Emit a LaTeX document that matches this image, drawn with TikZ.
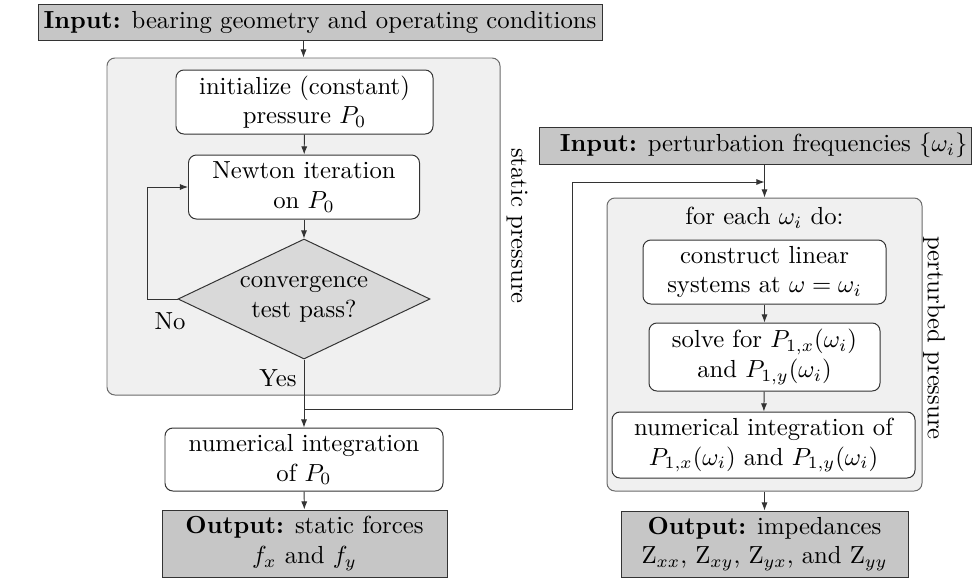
\documentclass[tikz,border=0pt]{standalone}
\usetikzlibrary{shapes.geometric,arrows.meta}
\definecolor{iogray}{HTML}{C6C6C6}
\definecolor{diagray}{HTML}{D9D9D9}
\definecolor{grpgray}{HTML}{F0F0F0}
\definecolor{edge}{HTML}{333333}
\definecolor{grpedge}{HTML}{6A6A6A}
\def\u{0.405pt}
\begin{document}
\begin{tikzpicture}[x=0.405pt,y=-0.405pt,
  iobox/.style={draw=edge, fill=iogray, align=center, inner sep=0pt},
  proc/.style={draw=edge, fill=white, rounded corners=3.2pt, align=center, inner sep=0pt},
  grp/.style={draw=grpedge, fill=grpgray, rounded corners=3.2pt, inner sep=0pt},
  dec/.style={diamond, draw=edge, fill=diagray, aspect=2.1, inner sep=0pt, align=center},
  arr/.style={-{Latex[length=3.3pt,width=2.5pt]}, draw=edge},
  lbl/.style={inner sep=0pt}]
\useasboundingbox[fill=white] (0,0) rectangle (979,579);
% groups
\node[grp, minimum width=393*\u, minimum height=337*\u] (sgrp) at (303.5,226.5) {};
\node[grp, minimum width=315*\u, minimum height=293*\u] (pgrp) at (764.5,344.5) {};
% inputs
\node[iobox, minimum width=564*\u, minimum height=36*\u] (in1) at (320,22) {\textbf{Input:} bearing geometry and operating conditions};
\node[iobox, minimum width=432*\u, minimum height=37*\u] (in2) at (755,145.5) {\hspace*{7pt}\textbf{Input:} perturbation frequencies $\{\omega_i\}$};
% static column
\node[proc, minimum width=257*\u, minimum height=64*\u] (init) at (304.5,102) {initialize (constant)\\pressure $P_0$};
\node[proc, minimum width=231*\u, minimum height=64*\u] (newton) at (304,187) {Newton iteration\\on $P_0$};
\node[dec, minimum width=252*\u, minimum height=120*\u] (conv) at (304,299) {convergence\\test pass?};
\node[proc, minimum width=278*\u, minimum height=63*\u] (int0) at (304,459.5) {numerical integration\\of $P_0$};
\node[iobox, minimum width=285*\u, minimum height=67*\u] (out1) at (304.5,543.5) {\textbf{Output:} static forces\\$f_x$ and $f_y$};
\node[lbl] (no) at (170,321) {No};
\node[lbl] (yes) at (278,378) {Yes};
\node[lbl, rotate=-90] (sp) at (517,226) {static pressure};
% perturbed column
\node[lbl] (foreach) at (764.5,218) {for each $\omega_i$ do:};
\node[proc, minimum width=243*\u, minimum height=64*\u] (cons) at (764.5,272) {construct linear\\systems at $\omega=\omega_i$};
\node[proc, minimum width=231*\u, minimum height=68*\u] (solve) at (764.5,357) {solve for $P_{1,x}(\omega_i)$\\and $P_{1,y}(\omega_i)$};
\node[proc, minimum width=303*\u, minimum height=66*\u] (int1) at (763.5,445) {numerical integration of\\$P_{1,x}(\omega_i)$ and $P_{1,y}(\omega_i)$};
\node[iobox, minimum width=287*\u, minimum height=66*\u] (out2) at (764.5,544) {\textbf{Output:} impedances\\$\mathrm{Z}_{xx}$, $\mathrm{Z}_{xy}$, $\mathrm{Z}_{yx}$, and $\mathrm{Z}_{yy}$};
\node[lbl, rotate=-90] (pp) at (934,338) {perturbed pressure};
% connectors
\draw[arr] (in1.south -| sgrp.north) -- (sgrp.north);
\draw[arr] (init) -- (newton);
\draw[arr] (newton) -- (conv);
\draw[arr] (conv.west) -| (147,187) -- (newton.west);
\draw[arr] (conv.south) -- (int0.north);
\draw[arr] (int0) -- (out1);
\coordinate (br) at (conv.south |- 0,409);
\coordinate (mid) at (572,409);
\coordinate (join) at (pgrp.north |- 0,182);
\draw[arr] (br) -- (mid) |- (join);
\draw[arr] (in2.south -| pgrp.north) -- (pgrp.north);
\draw[arr] (cons) -- (solve);
\draw[arr] (solve) -- (int1);
\draw[arr] (pgrp.south) -- (out2.north);
\end{tikzpicture}
\end{document}
